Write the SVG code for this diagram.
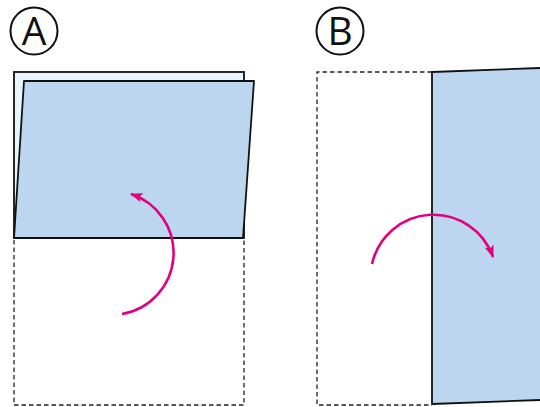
<svg xmlns="http://www.w3.org/2000/svg" width="540" height="407" viewBox="0 0 540 407">
<style>
.dash{fill:none;stroke:#222;stroke-width:1.3;stroke-dasharray:4.5,3}
.sheet{fill:#BCD6F0;stroke:#111;stroke-width:1.8;stroke-linejoin:round}
.back{fill:#E8F5FD;stroke:#111;stroke-width:1.8}
.arrow{fill:none;stroke:#E3007D;stroke-width:2.6;marker-end:url(#ah)}
.lbl{font-family:"Open Sans","Liberation Sans",sans-serif;font-size:39px;fill:#111;text-anchor:middle}
.ring{fill:none;stroke:#111;stroke-width:2}
</style>
<defs>
<marker id="ah" markerUnits="userSpaceOnUse" markerWidth="14" markerHeight="10" refX="10" refY="4" orient="auto" viewBox="0 0 12 8">
<path d="M0,0 L11,4 L0,8 L2.5,4 Z" fill="#E3007D"/>
</marker>
</defs>
<g id="labelA">
<circle class="ring" cx="34" cy="31" r="23.5"/>
<text class="lbl" x="34" y="45">A</text>
</g>
<g id="labelB">
<circle class="ring" cx="340" cy="31" r="23.5"/>
<text class="lbl" x="340" y="45">B</text>
</g>
<g id="panelA">
<rect class="dash" x="14" y="238" width="230" height="167"/>
<rect class="back" x="14" y="72" width="230" height="166"/>
<polygon class="sheet" points="24,81 254,81 243,238 14,238"/>
</g>
<g id="panelB">
<polyline class="dash" points="432,72 317,72 317,405 432,405"/>
<polygon class="sheet" points="432,72 545,67.8 545,399.8 432,404"/>
</g>
<g id="connectors">
<path class="arrow" d="M122,314 A62,62 0 0 0 131,194"/>
<path class="arrow" d="M372,264 A63,63 0 0 1 493,257"/>
</g>
</svg>
